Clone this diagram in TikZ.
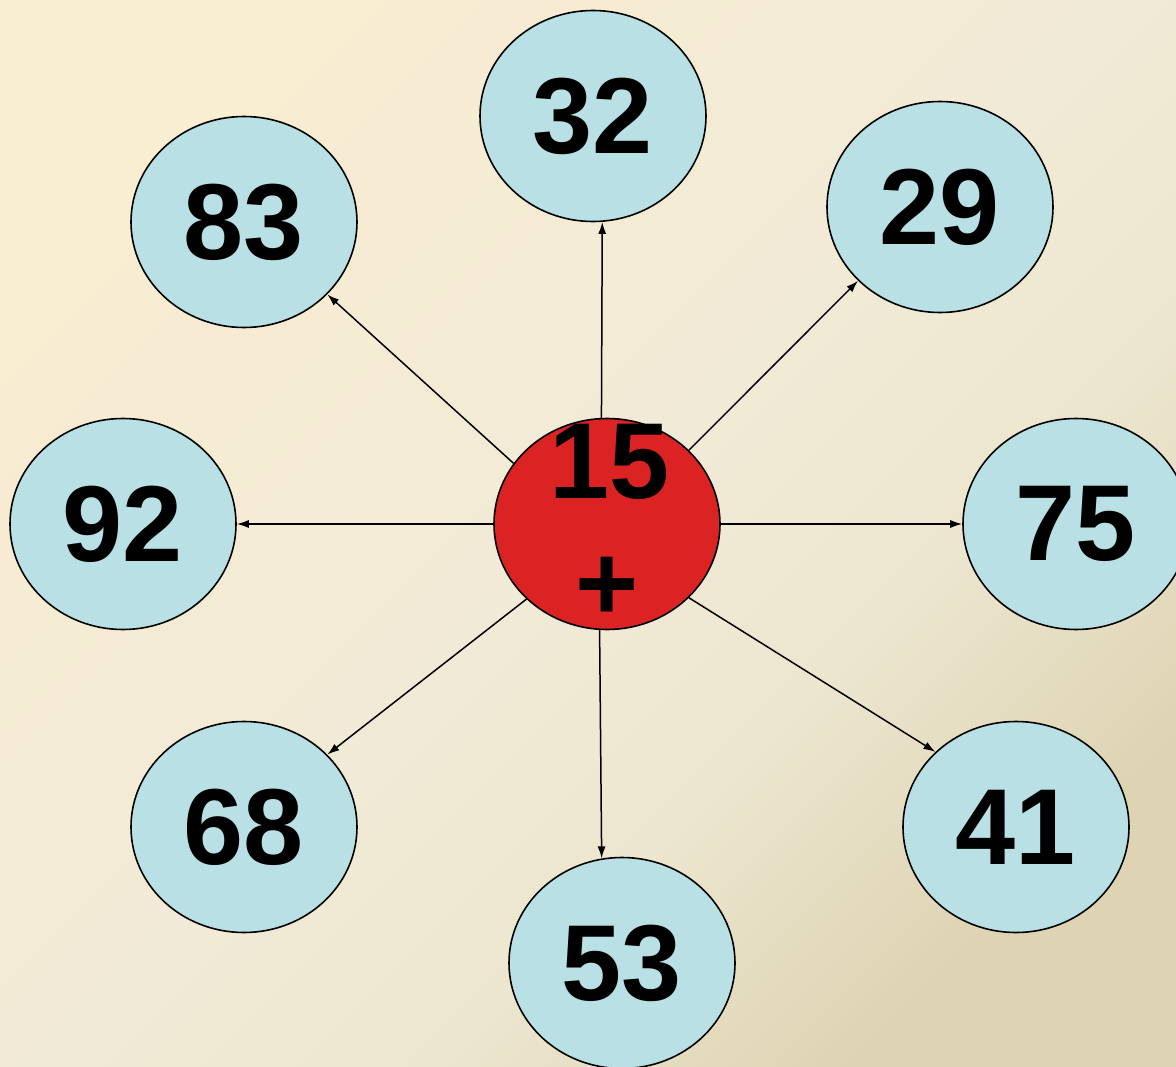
\documentclass[tikz,border=0pt]{standalone}
\usepackage{fontspec}
\setmainfont{Liberation Sans}
\usetikzlibrary{shapes.geometric,arrows.meta}
\definecolor{bubblefill}{RGB}{185,224,228}
\definecolor{hubfill}{RGB}{220,35,36}
\definecolor{bgA}{RGB}{249,237,210}
\definecolor{bgB}{RGB}{241,234,214}
\definecolor{bgD}{RGB}{237,230,207}
\definecolor{bgC}{RGB}{222,212,180}
\pgfdeclareverticalshading{bgshade}{100bp}{color(0bp)=(bgC); color(25bp)=(bgC); color(38bp)=(bgD); color(50bp)=(bgB); color(75bp)=(bgA); color(100bp)=(bgA)}
\begin{document}
\begin{tikzpicture}[x=1pt,y=-1pt,
  bubble/.style={ellipse, draw=black, line width=1.6pt, fill=bubblefill,
    minimum width=226pt, minimum height=211pt, inner sep=0pt,
    font=\fontsize{108}{108}\selectfont\bfseries},
  hub/.style={bubble, fill=hubfill},
  numtxt/.style={inner sep=0pt, font=\fontsize{108}{108}\selectfont\bfseries},
  conn/.style={line width=1.5pt, -{Latex[length=12pt,width=8pt]}}]
\useasboundingbox (0,0) rectangle (1176,1067);
\clip (0,0) rectangle (1176,1067);
\shade[shading=bgshade, shading angle=45] (0,0) rectangle (1176,1067);
% outer bubbles
\node[bubble] (n32) at (593,116) {32};
\node[bubble] (n83) at (244,222) {83};
\node[bubble] (n29) at (940,207) {29};
\node[bubble] (n92) at (123,524) {92};
\node[bubble] (n75) at (1076,524) {75};
\node[bubble] (n68) at (244,827) {68};
\node[bubble] (n41) at (1016,827) {41};
\node[bubble] (n53) at (622,963) {53};
% hub
\node[hub] (c) at (607,524) {};
\node[numtxt] (t15) at (610,462) {15};
\node[numtxt] (tplus) at (607,589) {+};
% connectors
\draw[conn] (c.93.8) -- (n32.-85.7);
\draw[conn] (c.266.2) -- (n53.101.8);
\draw[conn] (c.west) -- (n92.east);
\draw[conn] (c.east) -- (n75.west);
\draw[conn] (c.147.8) -- (n83.-41.5);
\draw[conn] (c.42.5) -- (n29.222.8);
\draw[conn] (c.223.2) -- (n68.41.8);
\draw[conn] (c.-42.8) -- (n41.137.5);
\end{tikzpicture}
\end{document}
